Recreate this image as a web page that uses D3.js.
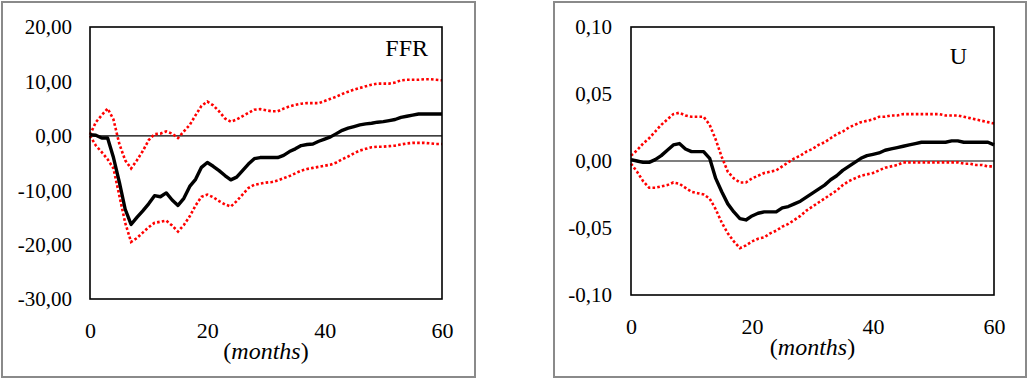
<!DOCTYPE html>
<html>
<head>
<meta charset="utf-8">
<title>Impulse responses: FFR and U</title>
<script src="https://d3js.org/d3.v7.min.js"></script>
<style>
  body { margin: 0; background: #fff; }
  svg text, svg tspan { font-family: "Liberation Serif", "Times New Roman", serif; fill: #000; }
</style>
</head>
<body>
<div id="chart"></div>
<script>

// months 0..60
var months = d3.range(0, 61);

// FFR response (point estimate) and its confidence bands
var ffrMain = [0.2, 0.1, -0.4, -0.4, -4.0, -8.5, -13.5, -16.3, -15.0, -13.8,
  -12.5, -11.0, -11.2, -10.5, -11.8, -12.8, -11.5, -9.3, -8.0, -5.8,
  -4.9, -5.6, -6.4, -7.3, -8.1, -7.6, -6.4, -5.2, -4.2, -4.0,
  -4.0, -4.0, -4.0, -3.6, -2.9, -2.4, -1.8, -1.6, -1.5, -1.0,
  -0.6, -0.2, 0.4, 1.0, 1.4, 1.7, 2.0, 2.2, 2.3, 2.5,
  2.6, 2.8, 3.0, 3.4, 3.6, 3.8, 4.0, 4.0, 4.0, 4.0, 4.0];
var ffrUpper = [0.2, 2.5, 3.8, 5.0, 3.0, -1.5, -4.5, -6.0, -4.5, -2.8,
  -0.8, 0.3, 0.4, 0.8, 0.4, -0.4, 0.8, 2.0, 3.8, 5.5,
  6.3, 5.6, 4.5, 3.2, 2.6, 3.0, 3.6, 4.2, 4.8, 4.9,
  4.7, 4.5, 4.5, 5.0, 5.4, 5.7, 5.9, 6.0, 6.0, 6.0,
  6.4, 6.8, 7.2, 7.7, 8.1, 8.5, 8.8, 9.1, 9.4, 9.6,
  9.6, 9.6, 9.8, 10.2, 10.3, 10.3, 10.3, 10.4, 10.4, 10.3, 10.2];
var ffrLower = [0.0, -1.8, -3.0, -4.3, -6.0, -11.0, -16.0, -19.5, -18.8, -17.8,
  -16.8, -16.0, -15.8, -15.6, -16.5, -17.6, -16.4, -14.8, -12.8, -11.2,
  -10.8, -11.3, -12.0, -12.6, -13.0, -12.0, -10.8, -9.6, -9.0, -8.8,
  -8.6, -8.5, -8.2, -7.8, -7.4, -6.9, -6.4, -6.1, -5.9, -5.7,
  -5.5, -5.3, -4.9, -4.3, -3.8, -3.2, -2.7, -2.4, -2.1, -2.0,
  -2.0, -1.9, -1.8, -1.6, -1.4, -1.3, -1.3, -1.3, -1.4, -1.5, -1.5];

// U response and bands
var uMain = [0.001, 0.000, -0.001, -0.001, 0.001, 0.004, 0.008, 0.012, 0.013, 0.009,
  0.007, 0.007, 0.007, 0.002, -0.013, -0.023, -0.032, -0.038, -0.043, -0.044,
  -0.041, -0.039, -0.038, -0.038, -0.038, -0.035, -0.034, -0.032, -0.030, -0.027,
  -0.024, -0.021, -0.018, -0.014, -0.011, -0.007, -0.004, -0.001, 0.002, 0.004,
  0.005, 0.006, 0.008, 0.009, 0.010, 0.011, 0.012, 0.013, 0.014, 0.014,
  0.014, 0.014, 0.014, 0.015, 0.015, 0.014, 0.014, 0.014, 0.014, 0.014, 0.012];
var uUpper = [0.004, 0.008, 0.013, 0.017, 0.022, 0.027, 0.031, 0.035, 0.036, 0.034,
  0.033, 0.033, 0.033, 0.027, 0.016, 0.003, -0.008, -0.013, -0.016, -0.016,
  -0.013, -0.011, -0.009, -0.008, -0.007, -0.004, -0.001, 0.002, 0.004, 0.007,
  0.009, 0.012, 0.014, 0.017, 0.020, 0.022, 0.025, 0.027, 0.029, 0.030,
  0.031, 0.033, 0.033, 0.034, 0.034, 0.035, 0.035, 0.035, 0.035, 0.035,
  0.035, 0.035, 0.034, 0.034, 0.034, 0.033, 0.032, 0.031, 0.030, 0.029, 0.028];
var uLower = [-0.002, -0.008, -0.015, -0.020, -0.020, -0.019, -0.018, -0.016, -0.017, -0.020,
  -0.023, -0.024, -0.025, -0.028, -0.036, -0.046, -0.054, -0.060, -0.065, -0.063,
  -0.060, -0.058, -0.057, -0.054, -0.052, -0.049, -0.047, -0.044, -0.041, -0.037,
  -0.034, -0.031, -0.028, -0.025, -0.022, -0.018, -0.015, -0.013, -0.011, -0.010,
  -0.009, -0.007, -0.005, -0.004, -0.003, -0.001, -0.001, -0.001, -0.001, -0.001,
  -0.001, -0.001, -0.001, -0.001, -0.001, -0.002, -0.002, -0.003, -0.003, -0.004, -0.004];

var xTicks = [0, 20, 40, 60];
var ffrTicks = [20, 10, 0, -10, -20, -30];
var uTicks = [0.10, 0.05, 0.00, -0.05, -0.10];

var SERIF = "'Liberation Serif', 'Times New Roman', serif";
var W = 1028, H = 379;
var svg = d3.select("#chart").append("svg")
  .attr("width", W).attr("height", H)
  .attr("font-family", SERIF);

svg.append("rect").attr("width", W).attr("height", H).attr("fill", "#fff");

// comma decimal separator and plain hyphen, as in the original
function commaFmt(v) {
  return d3.format(".2f")(v).replace(".", ",").replace("\u2212", "-");
}

function drawPanel(opt) {
  var g = svg.append("g");

  // outer gray frame
  g.append("rect")
    .attr("x", opt.frame[0]).attr("y", opt.frame[1])
    .attr("width", opt.frame[2]).attr("height", opt.frame[3])
    .attr("fill", "none").attr("stroke", "#8a8a8a").attr("stroke-width", 2);

  var x = d3.scaleLinear().domain([0, 60]).range([opt.left, opt.right]);
  var y = d3.scaleLinear().domain(opt.domain).range([opt.bottom, opt.top]);

  // y tick labels
  var yAxis = d3.axisLeft(y).tickValues(opt.yTicks).tickFormat(commaFmt).tickSize(0).tickPadding(0);
  var ya = g.append("g").attr("transform", "translate(" + opt.yLabelX + ",0)").call(yAxis)
    .attr("font-family", SERIF).attr("font-size", 21);
  ya.select(".domain").remove();
  ya.selectAll("text").attr("dy", "0.33em");

  // x tick labels
  var xAxis = d3.axisBottom(x).tickValues(xTicks).tickFormat(d3.format("d")).tickSize(0).tickPadding(0);
  var xa = g.append("g").attr("transform", "translate(0," + (opt.bottom + 39) + ")").call(xAxis)
    .attr("font-family", SERIF).attr("font-size", 22);
  xa.select(".domain").remove();
  xa.selectAll("text").attr("dy", 0).attr("y", 0);

  // axis title
  var t = g.append("text")
    .attr("x", (opt.left + opt.right) / 2)
    .attr("y", opt.bottom + 60)
    .attr("text-anchor", "middle")
    .attr("font-size", 24);
  t.append("tspan").text("(");
  t.append("tspan").attr("font-style", "italic").text("months");
  t.append("tspan").text(")");

  // zero line
  g.append("line")
    .attr("x1", opt.left).attr("x2", opt.right)
    .attr("y1", y(0)).attr("y2", y(0))
    .attr("stroke", "#000").attr("stroke-width", 1.2);

  var line = d3.line()
    .x(function(d, i) { return x(months[i]); })
    .y(function(d) { return y(d); });

  [opt.upper, opt.lower].forEach(function(s) {
    g.append("path").datum(s)
      .attr("d", line)
      .attr("fill", "none")
      .attr("stroke", "#ff0000")
      .attr("stroke-width", 2.6)
      .attr("stroke-dasharray", "2.6,2.2");
  });

  g.append("path").datum(opt.main)
    .attr("d", line)
    .attr("fill", "none")
    .attr("stroke", "#000")
    .attr("stroke-width", 3.4)
    .attr("stroke-linejoin", "round");

  // plot frame
  g.append("rect")
    .attr("x", opt.left).attr("y", opt.top)
    .attr("width", opt.right - opt.left).attr("height", opt.bottom - opt.top)
    .attr("fill", "none").attr("stroke", "#000").attr("stroke-width", 1.6);

  // panel label
  g.append("text")
    .attr("x", opt.titleX).attr("y", opt.titleY)
    .attr("text-anchor", "end")
    .attr("font-size", 24)
    .text(opt.title);
}

drawPanel({
  frame: [2, 2, 473, 375],
  left: 90, right: 442, top: 27, bottom: 299,
  domain: [-30, 20], yTicks: ffrTicks, yLabelX: 72,
  main: ffrMain, upper: ffrUpper, lower: ffrLower,
  title: "FFR", titleX: 428, titleY: 56
});

drawPanel({
  frame: [554, 2, 472, 375],
  left: 631, right: 994, top: 27, bottom: 295,
  domain: [-0.10, 0.10], yTicks: uTicks, yLabelX: 612,
  main: uMain, upper: uUpper, lower: uLower,
  title: "U", titleX: 967, titleY: 64
});

</script>
</body>
</html>
